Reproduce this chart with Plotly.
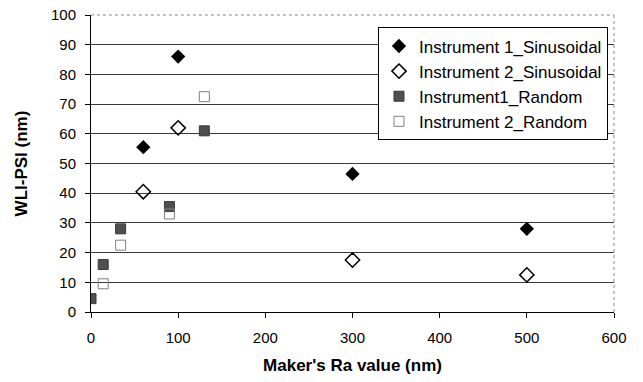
import plotly.graph_objects as go

# Data
s1_x = [60, 100, 300, 500]
s1_y = [55.5, 86, 46.5, 28]
s2_x = [60, 100, 300, 500]
s2_y = [40.5, 62, 17.5, 12.5]
r1_x = [0, 14, 34, 90, 130]
r1_y = [4.5, 16, 28, 35.5, 61]
r2_x = [14, 34, 90, 130]
r2_y = [9.5, 22.5, 33, 72.5]

names = ["Instrument 1_Sinusoidal", "Instrument 2_Sinusoidal",
         "Instrument1_Random", "Instrument 2_Random"]

FONT = "Arial, Liberation Sans, sans-serif"

fig = go.Figure()
fig.add_trace(go.Scatter(x=s1_x, y=s1_y, mode="markers", name=names[0],
                         marker=dict(symbol="diamond", size=11, color="black")))
fig.add_trace(go.Scatter(x=s2_x, y=s2_y, mode="markers", name=names[1],
                         marker=dict(symbol="diamond-open", size=11, color="black",
                                     line=dict(width=1.5, color="black"))))
fig.add_trace(go.Scatter(x=r1_x, y=r1_y, mode="markers", name=names[2],
                         marker=dict(symbol="square", size=10, color="#4f4f4f",
                                     line=dict(width=1, color="#3a3a3a"))))
fig.add_trace(go.Scatter(x=r2_x, y=r2_y, mode="markers", name=names[3],
                         marker=dict(symbol="square-open", size=10, color="#808080",
                                     line=dict(width=1, color="#808080"))))

fig.update_layout(
    width=643, height=382,
    margin=dict(l=91, r=29, t=15, b=70),
    paper_bgcolor="white", plot_bgcolor="white",
    font=dict(family=FONT, color="black", size=15),
    showlegend=True,
    legend=dict(x=0.9885, y=0.958, xanchor="right", yanchor="top",
                bgcolor="white", bordercolor="black", borderwidth=1,
                font=dict(size=17, family=FONT), itemwidth=30,
                tracegroupgap=0),
    xaxis=dict(range=[0, 600], tickvals=[0, 100, 200, 300, 400, 500, 600],
               showgrid=False, zeroline=False, automargin=False,
               showline=True, linecolor="black", linewidth=1,
               ticks="outside", ticklen=5, tickcolor="black",
               tickfont=dict(size=15), ticklabelstandoff=7,
               title=dict(text="<b>Maker's Ra value (nm)</b>",
                          font=dict(size=17), standoff=14)),
    yaxis=dict(range=[0, 100], tickvals=list(range(0, 101, 10)),
               showgrid=True, gridcolor="#3a3a3a", gridwidth=1,
               zeroline=False, automargin=False,
               showline=True, linecolor="black", linewidth=1,
               ticks="outside", ticklen=5, tickcolor="black",
               tickfont=dict(size=15), ticklabelstandoff=6,
               title=dict(text="<b>WLI-PSI (nm)</b>",
                          font=dict(size=17), standoff=19)),
)

# dotted top and right frame lines
fig.add_shape(type="line", xref="paper", yref="paper", x0=0, x1=1, y0=1, y1=1,
              line=dict(color="#888888", width=1, dash="dot"), layer="below")
fig.add_shape(type="line", xref="paper", yref="paper", x0=1, x1=1, y0=0, y1=1,
              line=dict(color="#888888", width=1, dash="dot"), layer="below")

fig.write_html("out.html")
